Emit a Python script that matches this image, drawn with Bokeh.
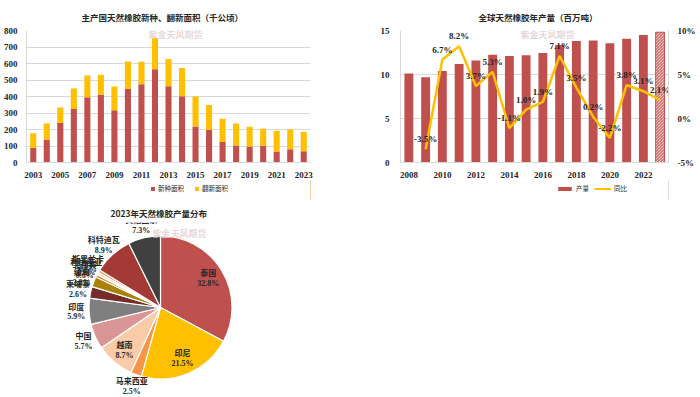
import numpy as np
from bokeh.plotting import figure
from bokeh.models import (Range1d, LinearAxis, Legend, LegendItem, ColumnDataSource,
                          FixedTicker, CustomJSTickFormatter, Label)
from bokeh.layouts import column, row
from bokeh.embed import file_html
from bokeh.resources import INLINE
from bokeh.core.properties import value

# ---------------- data ----------------
years1 = list(range(2003, 2024))
new_area = [90, 140, 240, 325, 395, 410, 317, 447, 475, 565, 462, 402, 218, 197, 125, 103, 97, 102, 66, 80, 68]
total_area = [178, 237, 333, 448, 527, 532, 460, 612, 610, 755, 628, 573, 400, 348, 265, 237, 217, 205, 193, 200, 187]
replant_area = [t - n for t, n in zip(total_area, new_area)]
ticks1 = list(range(2003, 2024, 2))
yticks1 = list(range(0, 900, 100))

years2 = list(range(2008, 2024))
output = [10.1, 9.7, 10.4, 11.2, 11.6, 12.25, 12.1, 12.2, 12.45, 13.35, 13.8, 13.85, 13.55, 14.05, 14.5, 14.8]
yoy_years = list(range(2009, 2024))
yoy = [-3.5, 6.7, 8.2, 3.7, 5.3, -1.1, 1.0, 1.9, 7.1, 3.5, 0.2, -2.2, 3.8, 3.1, 2.1]
ticks2 = list(range(2008, 2023, 2))
yticks2 = [0, 5, 10, 15]
yticks2r = [-5, 0, 5, 10]

countries = ["泰国", "印尼", "马来西亚", "越南", "中国", "印度", "柬埔寨", "缅甸",
             "菲律宾", "利比里亚", "斯里兰卡", "科特迪瓦", "其他国家"]
shares = [32.8, 21.5, 2.5, 8.7, 5.7, 5.9, 2.6, 2.3, 0.6, 0.6, 0.6, 8.9, 7.3]
pie_colors = ["#C0504D", "#FFC000", "#F79646", "#F9CBA8", "#D99694", "#7F7F7F", "#772C2A",
              "#A8820A", "#E46C0A", "#FDE9D9", "#F79646", "#A33A36", "#404040"]
inside = [True, True, False, True, False, False, False, False, False, False, False, False, False]

RED = "#C0504D"
YEL = "#FFC000"
GRID = "#D9D9D9"
TXT = "#262626"
NUMFONT = "'Liberation Serif', 'Noto Sans CJK SC'"
CJK = "Noto Sans CJK SC"


def style_title(p, offset, standoff):
    p.title.align = "left"
    p.title.offset = offset
    p.title.standoff = standoff
    p.title.text_font = CJK
    p.title.text_font_size = "8.5px"
    p.title.text_font_style = "bold"
    p.title.text_color = TXT


def style_axes(p):
    for ax in p.axis:
        ax.axis_line_color = GRID
        ax.major_tick_line_color = None
        ax.minor_tick_line_color = None
        ax.major_label_text_font = NUMFONT
        ax.major_label_text_font_style = "bold"
        ax.major_label_text_font_size = "9px"
        ax.major_label_text_color = TXT
        ax.major_label_standoff = 3
    p.xgrid.visible = False
    p.ygrid.grid_line_color = GRID
    p.outline_line_color = None


def legend_figure(w, entries, loc, gw, spacing):
    """A thin strip that only holds a legend; its proxy glyphs lie outside its range."""
    lf = figure(width=w, height=20, output_backend="svg", toolbar_location=None,
                x_range=Range1d(0, 1), y_range=Range1d(0, 1), min_border=0)
    lf.axis.visible = False
    lf.grid.visible = False
    lf.outline_line_color = None
    items = []
    for lab, kind, col, xs, ys in entries:
        if kind == "bar":
            r = lf.vbar(x=xs[:1], top=ys[:1], width=0.5, fill_color=col, line_color=None)
        else:
            r = lf.line(x=xs[:2], y=ys[:2], line_color=col, line_width=2)
        items.append(LegendItem(label=lab, renderers=[r]))
    lg = Legend(items=items, location=loc, orientation="horizontal",
                border_line_color=None, background_fill_alpha=0,
                label_text_font=CJK, label_text_font_size="6.5px", label_text_color=TXT,
                glyph_width=gw, glyph_height=5, label_standoff=3, spacing=spacing,
                padding=0, margin=0, label_height=8, label_width=8)
    lf.add_layout(lg)
    return lf


def watermark(p, x, y):
    p.add_layout(Label(x=x, y=y, x_units="screen", y_units="screen", text="紫金天风期货",
                       text_font=CJK, text_font_size="9px", text_color="#E3D3D3",
                       text_alpha=0.9, text_font_style="bold"))

# ---------------- chart 1 ----------------
p1 = figure(width=350, height=180, output_backend="svg", toolbar_location=None,
            x_range=Range1d(2002.5, 2023.5), y_range=Range1d(0, 800),
            min_border_left=23, min_border_right=40, min_border_top=29, min_border_bottom=16,
            title="主产国天然橡胶新种、翻新面积（千公顷）")
src1 = ColumnDataSource(dict(year=years1, new=new_area, replant=replant_area))
p1.vbar_stack(["new", "replant"], x="year", width=0.45, source=src1,
              color=[RED, YEL], line_color=None)
p1.xaxis.ticker = FixedTicker(ticks=ticks1)
p1.yaxis.ticker = FixedTicker(ticks=yticks1)
style_axes(p1)
style_title(p1, 55, 16)
watermark(p1, 122, 122)
leg1 = legend_figure(350, [("新种面积", "bar", RED, years1, new_area),
                           ("翻新面积", "bar", YEL, years1, replant_area)], (124, 7), 5, 10)

# ---------------- chart 2 ----------------
p2 = figure(width=348, height=180, output_backend="svg", toolbar_location=None,
            x_range=Range1d(2007.5, 2023.5), y_range=Range1d(0, 15),
            min_border_left=50, min_border_right=28, min_border_top=29, min_border_bottom=16,
            title="全球天然橡胶年产量（百万吨）")
p2.extra_y_ranges = {"pct": Range1d(-5, 10)}
p2.vbar(x=years2[:-1], top=output[:-1], width=0.53, fill_color=RED, line_color=None)
p2.vbar(x=years2[-1:], top=output[-1:], width=0.53, fill_color="white", line_color=RED,
        line_width=1, hatch_pattern="left_diagonal_line", hatch_color=RED, hatch_scale=3,
        hatch_weight=1)
p2.line(x=yoy_years, y=yoy, y_range_name="pct", line_color=YEL, line_width=2.5)
p2.text(x=yoy_years, y=yoy, text=[f"{v:.1f}%" for v in yoy], y_range_name="pct",
        text_font=value(NUMFONT), text_font_style="bold", text_font_size="9px",
        text_color=TXT, text_align="center", text_baseline="bottom", y_offset=-5)
rax = LinearAxis(y_range_name="pct", ticker=FixedTicker(ticks=yticks2r),
                 formatter=CustomJSTickFormatter(code="return tick + '%';"))
p2.add_layout(rax, "right")
p2.xaxis.ticker = FixedTicker(ticks=ticks2)
p2.yaxis[0].ticker = FixedTicker(ticks=yticks2)
style_axes(p2)
p2.yaxis[0].major_label_standoff = 5
style_title(p2, 78, 16)
watermark(p2, 120, 122)
leg2 = legend_figure(348, [("产量", "bar", RED, years2, output),
                           ("同比", "line", YEL, yoy_years, yoy)], (156, 7), 17, 5)

# ---------------- chart 3 (pie) ----------------
FW, FH = 350, 175
p3 = figure(frame_width=FW, frame_height=FH, output_backend="svg", toolbar_location=None,
            x_range=Range1d(0, FW), y_range=Range1d(0, FH), min_border=0, min_border_top=20,
            title="2023年天然橡胶产量分布")
p3.axis.visible = False
p3.grid.visible = False
p3.outline_line_color = None
style_title(p3, 110, 8)

cx, cy, R = 160, 90, 71.5
sh = np.array(shares, dtype=float)
cum = np.cumsum(sh) / sh.sum()
prev = cum - sh / sh.sum()
start = np.pi / 2 - 2 * np.pi * prev
end = np.pi / 2 - 2 * np.pi * cum
mid = (prev + cum) / 2 * 2 * np.pi  # clockwise from top
f = np.where(np.array(inside), 0.78, 1.18)
lx = cx + f * R * np.sin(mid)
ly = cy + f * R * np.cos(mid)
labels = [f"{c}\n{s:.1f}%" for c, s in zip(countries, shares)]

watermark(p3, 152, 158)
src3 = ColumnDataSource(dict(start=start, end=end, color=pie_colors, lx=lx, ly=ly, label=labels))
p3.wedge(x=cx, y=cy, radius=R, start_angle="start", end_angle="end", direction="clock",
         fill_color="color", line_color="white", line_width=1.2, source=src3)
p3.text(x="lx", y="ly", text="label", source=src3, text_font=value(NUMFONT),
        text_font_style="bold", text_font_size="8px", text_color=TXT,
        text_align="center", text_baseline="middle", text_line_height=1.1)

layout = column(row(column(p1, leg1), column(p2, leg2)), p3)
open("out.html", "w").write(file_html(layout, INLINE))
